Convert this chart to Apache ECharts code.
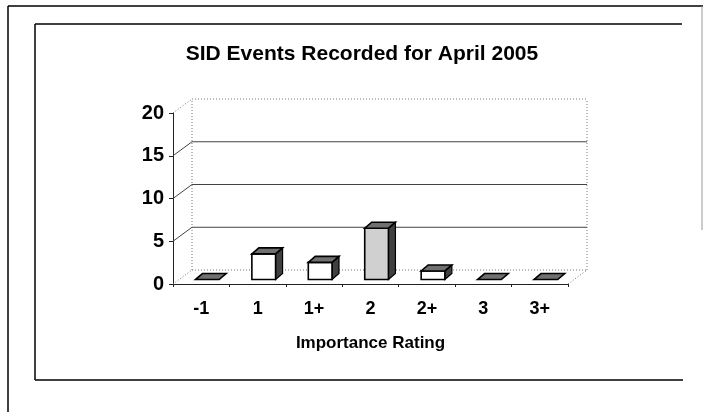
<!DOCTYPE html>
<html>
<head>
<meta charset="utf-8">
<script src="https://cdn.jsdelivr.net/npm/echarts@6/dist/echarts.min.js"></script>
<style>
html,body{margin:0;padding:0;background:#fff;}
#chart{width:703px;height:412px;}
</style>
</head>
<body>
<div id="chart"></div>
<script>
// ---- data ----
var categories = ['-1', '1', '1+', '2', '2+', '3', '3+'];
var events = [0, 3, 2, 6, 1, 0, 0];
var yTicks = [0, 5, 10, 15, 20];
var titleText = 'SID Events Recorded for April 2005';
var xAxisTitle = 'Importance Rating';

// ---- style constants ----
var FONT = '"Liberation Sans", Arial, Helvetica, sans-serif';
var DX = 19, DY = -14;          // 3D wall depth offset
var FD = 0.32;                  // bar front depth fraction
var BDX = 7, BDY = -6;          // bar depth offset
var BAR_W = 0.42;               // bar width fraction of band

var chart = echarts.init(document.getElementById('chart'), null, {renderer: 'canvas'});

function wallItem(params, api) {
  var cs = params.coordSys;
  var t = api.value(0);
  var p = api.coord([0, t]);
  var y = p[1];
  var x0 = cs.x, x1 = cs.x + cs.width;
  var solid = (t !== 0 && t !== 20);
  var ls = solid ? {stroke: '#444', lineWidth: 1} : {stroke: '#777', lineWidth: 1, lineDash: [1, 2]};
  var children = [
    {type: 'line', shape: {x1: x0, y1: y, x2: x0 + DX, y2: y + DY}, style: ls},
    {type: 'line', shape: {x1: x0 + DX, y1: y + DY, x2: x1 + DX, y2: y + DY}, style: ls}
  ];
  if (t === 0) {
    var yTop = api.coord([0, 20])[1];
    var dot = {stroke: '#777', lineWidth: 1, lineDash: [1, 2]};
    children.push({type: 'line', shape: {x1: x0 + DX, y1: y + DY, x2: x0 + DX, y2: yTop + DY}, style: dot});
    children.push({type: 'line', shape: {x1: x1 + DX, y1: y + DY, x2: x1 + DX, y2: yTop + DY}, style: dot});
    children.push({type: 'line', shape: {x1: x1, y1: y, x2: x1 + DX, y2: y + DY}, style: dot});
  }
  return {type: 'group', children: children};
}

function barItem(params, api) {
  var idx = api.value(0);
  var v = api.value(1);
  var base = api.coord([idx, 0]);
  var top = api.coord([idx, v]);
  var band = api.size([1, 0])[0];
  var w = band * BAR_W;
  var cx = base[0] + FD * DX;
  var yb = base[1] + FD * DY;
  var yt = top[1] + FD * DY;
  var xl = cx - w / 2, xr = cx + w / 2;
  var frontFill = (v >= 5) ? '#d0d0d0' : '#ffffff';
  var children = [];
  if (v > 0) {
    children.push({type: 'polygon', shape: {points: [[xr, yb], [xr + BDX, yb + BDY], [xr + BDX, yt + BDY], [xr, yt]]},
      style: {fill: '#404040', stroke: '#000', lineWidth: 1.2}});
    children.push({type: 'rect', shape: {x: xl, y: yt, width: w, height: yb - yt},
      style: {fill: frontFill, stroke: '#000', lineWidth: 1.6}});
  }
  children.push({type: 'polygon', shape: {points: [[xl, yt], [xr, yt], [xr + BDX, yt + BDY], [xl + BDX, yt + BDY]]},
    style: {fill: '#707070', stroke: '#000', lineWidth: 1.6}});
  return {type: 'group', children: children};
}

var option = {
  backgroundColor: '#fff',
  animation: false,
  title: {
    text: titleText,
    left: 357, top: 39, textAlign: 'center',
    textStyle: {fontFamily: FONT, fontSize: 21, fontWeight: 'bold', color: '#000'}
  },
  grid: {left: 173, right: 135, top: 113, bottom: 128, containLabel: false},
  xAxis: {
    type: 'category',
    data: categories,
    axisLine: {show: true, lineStyle: {color: '#222', width: 1}},
    axisTick: {show: true, length: 3, lineStyle: {color: '#222'}},
    axisLabel: {fontFamily: FONT, fontSize: 18, fontWeight: 'bold', color: '#000', margin: 16},
    splitLine: {show: false},
    name: xAxisTitle,
    nameLocation: 'middle',
    nameGap: 51,
    nameTextStyle: {fontFamily: FONT, fontSize: 17, fontWeight: 'bold', color: '#000'}
  },
  yAxis: {
    type: 'value',
    min: 0, max: 20, interval: 5,
    axisLine: {show: true, lineStyle: {color: '#222', width: 1}},
    axisTick: {show: true, length: 4, lineStyle: {color: '#222'}},
    axisLabel: {fontFamily: FONT, fontSize: 20, fontWeight: 'bold', color: '#000', margin: 9},
    splitLine: {show: false}
  },
  graphic: [
    {type: 'line', shape: {x1: 8, y1: 6, x2: 703, y2: 6}, style: {stroke: '#000', lineWidth: 1.5}, silent: true},
    {type: 'line', shape: {x1: 8, y1: 6, x2: 8, y2: 412}, style: {stroke: '#000', lineWidth: 1.5}, silent: true},
    {type: 'line', shape: {x1: 702, y1: 6, x2: 702, y2: 230}, style: {stroke: '#999', lineWidth: 1}, silent: true},
    {type: 'line', shape: {x1: 35, y1: 24, x2: 682, y2: 24}, style: {stroke: '#000', lineWidth: 1.5}, silent: true},
    {type: 'line', shape: {x1: 35, y1: 24, x2: 35, y2: 380}, style: {stroke: '#000', lineWidth: 1.5}, silent: true},
    {type: 'line', shape: {x1: 35, y1: 380, x2: 683, y2: 380}, style: {stroke: '#000', lineWidth: 1.5}, silent: true}
  ],
  series: [
    {
      type: 'custom',
      name: 'walls',
      z: 1,
      silent: true,
      renderItem: wallItem,
      data: yTicks.map(function (t) { return [t]; }),
      encode: {y: 0}
    },
    {
      type: 'custom',
      name: 'Events',
      z: 3,
      renderItem: barItem,
      data: events.map(function (v, i) { return [i, v]; }),
      encode: {x: 0, y: 1}
    }
  ]
};
chart.setOption(option);
</script>
</body>
</html>
